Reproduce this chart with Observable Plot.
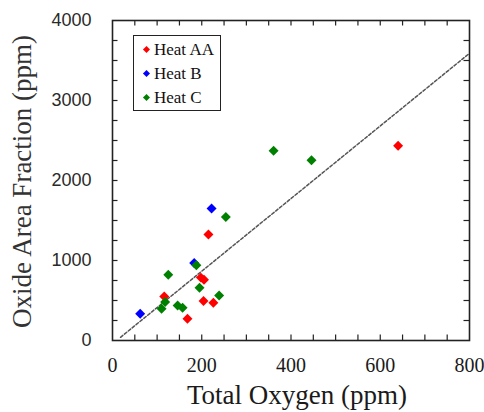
<!DOCTYPE html>
<html><head><meta charset="utf-8">
<script src="https://cdn.jsdelivr.net/npm/d3@7"></script>
<script src="https://cdn.jsdelivr.net/npm/@observablehq/plot@0.6"></script>
<style>
body{margin:0;background:#fff;}
#wrap{position:relative;width:484px;height:412px;}
#legend{position:absolute;left:133px;top:35px;width:86px;height:74px;border:1.5px solid #222;background:#fff;font-family:"Liberation Serif",serif;font-size:17px;color:#111;}
.item{position:absolute;left:10px;display:flex;align-items:center;height:20px;white-space:nowrap;}
.sw{width:5px;height:5px;transform:rotate(45deg);margin-right:5px;}
</style></head>
<body>
<div id="wrap"><div id="legend"></div></div>
<script>
// Data
const seriesNames = ["Heat AA", "Heat B", "Heat C"];
const seriesColors = ["#ff0000", "#0000ff", "#008000"];
const heatAA_x = [640, 215, 198, 205, 116, 204, 226, 168];
const heatAA_y = [2435, 1324, 786, 760, 551, 493, 472, 271];
const heatB_x = [222, 183, 62];
const heatB_y = [1650, 969, 334];
const heatC_x = [361, 446, 254, 188, 125, 195, 239, 118, 110, 146, 157];
const heatC_y = [2372, 2252, 1545, 940, 823, 660, 564, 480, 397, 439, 410];
const fitX = [18, 800];
const fitY = [40, 3590];
const xTickLabels = [0, 200, 400, 600, 800];
const yTickLabels = [0, 1000, 2000, 3000, 4000];
const xMinorTicks = [50,100,150,200,250,300,350,400,450,500,550,600,650,700,750];
const yMinorTicks = [250,500,750,1000,1250,1500,1750,2000,2250,2500,2750,3000,3250,3500,3750];
const xTitle = "Total Oxygen (ppm)";
const yTitle = "Oxide Area Fraction (ppm)";

const W = 484, H = 412, mL = 112, mR = 15, mT = 20, mB = 72;
const plotW = W - mL - mR, plotH = H - mT - mB, tk = 5.5;

const xs = [heatAA_x, heatB_x, heatC_x], ys = [heatAA_y, heatB_y, heatC_y];
const points = [];
seriesNames.forEach((s, i) => xs[i].forEach((x, j) => points.push({series: s, x, y: ys[i][j]})));
const fit = fitX.map((x, i) => ({x, y: fitY[i]}));

const chart = Plot.plot({
  width: W, height: H,
  marginLeft: mL, marginRight: mR, marginTop: mT, marginBottom: mB,
  x: {domain: [0, 800]},
  y: {domain: [0, 4000]},
  color: {domain: seriesNames, range: seriesColors},
  style: {background: "#fff", overflow: "visible"},
  marks: [
    Plot.line(fit, {x: "x", y: "y", stroke: "#555", strokeWidth: 1.5, strokeDasharray: "3,2"}),
    Plot.dot(points, {x: "x", y: "y", fill: "series", symbol: "diamond2", r: 4.5}),
    Plot.tickX(xMinorTicks, {x: d => d, insetTop: plotH - tk, stroke: "#222", strokeWidth: 1.2}),
    Plot.tickX(xMinorTicks, {x: d => d, insetBottom: plotH - tk, stroke: "#222", strokeWidth: 1.2}),
    Plot.tickY(yMinorTicks, {y: d => d, insetRight: plotW - tk, stroke: "#222", strokeWidth: 1.2}),
    Plot.tickY(yMinorTicks, {y: d => d, insetLeft: plotW - tk, stroke: "#222", strokeWidth: 1.2}),
    Plot.frame({stroke: "#222", strokeWidth: 1.6}),
    Plot.axisX(xTickLabels, {tickSize: 0, tickPadding: 17, tickFormat: d => String(d), fontFamily: "Liberation Serif", fontSize: 20, fill: "#1a1a1a", label: null}),
    Plot.axisY(yTickLabels, {tickSize: 0, tickPadding: 21, tickFormat: d => String(d), fontFamily: "Liberation Sans", fontSize: 18, fill: "#2a2a2a", label: null}),
    Plot.text([xTitle], {text: d => d, frameAnchor: "bottom", textAnchor: "middle", dy: 63, dx: 6, fontSize: 27, fontFamily: "Liberation Serif", fill: "#1a1a1a"}),
    Plot.text([yTitle], {text: d => d, frameAnchor: "left", textAnchor: "middle", rotate: -90, dx: -90, dy: 1, fontSize: 27, fontFamily: "Liberation Serif", fill: "#333"})
  ]
});
document.getElementById("wrap").prepend(chart);

const legend = document.getElementById("legend");
const rowTops = [3.5, 27.5, 51.5];
seriesNames.forEach((s, i) => {
  const it = document.createElement("div");
  it.className = "item";
  it.style.top = rowTops[i] + "px";
  const sw = document.createElement("span");
  sw.className = "sw";
  sw.style.background = seriesColors[i];
  it.appendChild(sw);
  it.appendChild(document.createTextNode(s));
  legend.appendChild(it);
});
</script>
</body></html>
